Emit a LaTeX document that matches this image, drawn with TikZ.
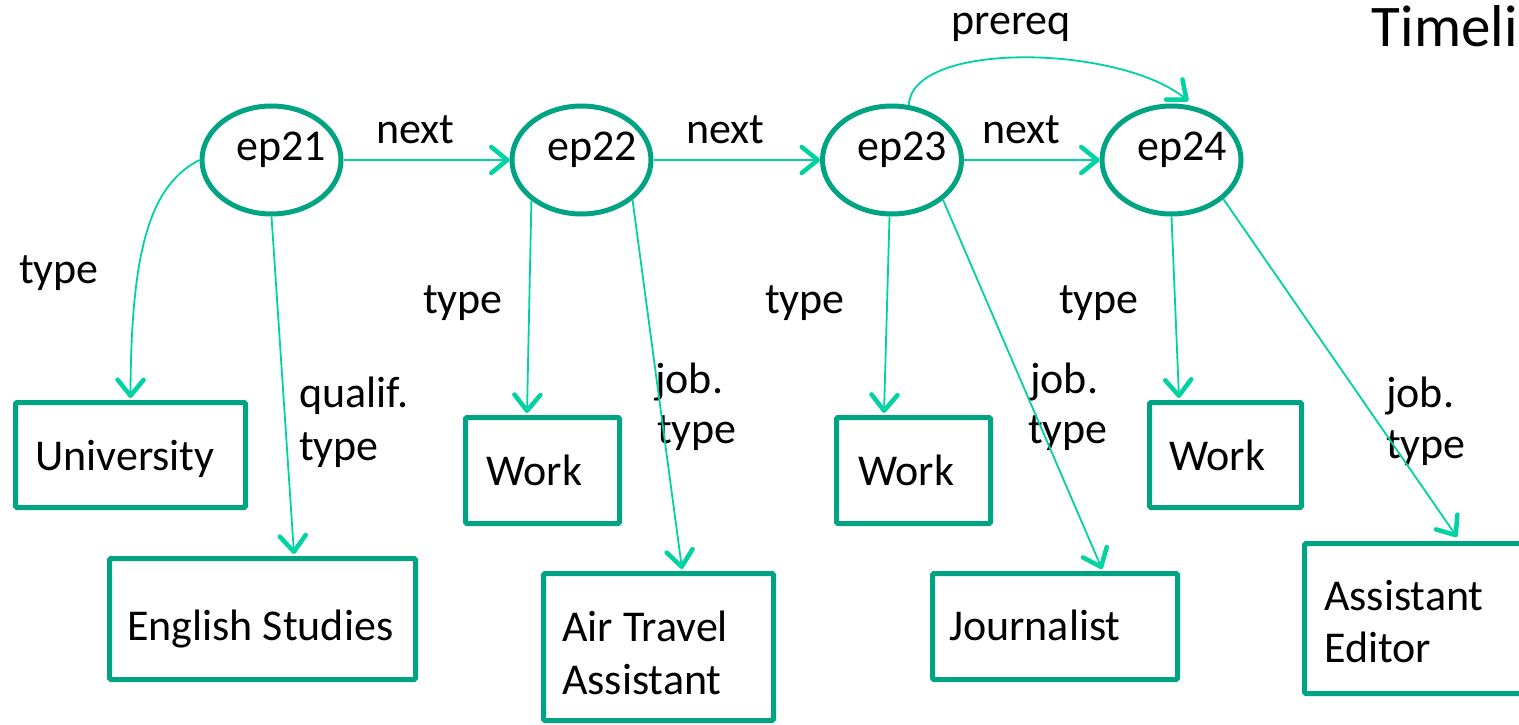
\documentclass[tikz,border=0pt]{standalone}
\usepackage{fontspec}
\setmainfont{Carlito}
\usetikzlibrary{arrows.meta,shapes.geometric}
\definecolor{edgeteal}{RGB}{0,163,130}
\definecolor{linkteal}{RGB}{0,210,162}

\begin{document}
\begin{tikzpicture}[x=1pt,y=-1pt,
  epnode/.style={draw=edgeteal,line width=5pt,ellipse,minimum width=139pt,minimum height=108pt,inner sep=0pt},
  box/.style={draw=edgeteal,line width=5pt,rectangle,rounded corners=1.5pt,inner sep=0pt},
  txt/.style={anchor=base west,inner sep=0pt,font=\fontsize{44}{52}\selectfont},
  link/.style={draw=linkteal,line width=1.8pt,-{Straight Barb[length=16pt,width=26pt,line width=4.5pt,round]}}
]
\useasboundingbox (0,0) rectangle (1519,725);

% title at the top right corner
\node[anchor=base east,inner sep=0pt,font=\fontsize{59}{70}\selectfont] (title) at (1518,47) {Timeli};

% episodes
\node[epnode] (ep21) at (271.5,160) {};
\node[epnode] (ep22) at (581.5,160) {};
\node[epnode] (ep23) at (892,160) {};
\node[epnode] (ep24) at (1171.5,160) {};
\node[txt] (t21) at (236,160) {ep21};
\node[txt] (t22) at (547,160) {ep22};
\node[txt] (t23) at (857,160) {ep23};
\node[txt] (t24) at (1137,160) {ep24};

% classes
\node[box,minimum width=230pt,minimum height=105pt] (univ) at (130.5,455) {};
\node[box,minimum width=306pt,minimum height=121pt] (engl) at (262.5,619) {};
\node[box,minimum width=154pt,minimum height=106pt] (work22) at (542.5,470.5) {};
\node[box,minimum width=230pt,minimum height=147pt] (air) at (658.5,647) {};
\node[box,minimum width=154pt,minimum height=106pt] (work23) at (913.5,470.5) {};
\node[box,minimum width=245pt,minimum height=106pt] (journ) at (1055,626.5) {};
\node[box,minimum width=152pt,minimum height=105pt] (work24) at (1225.5,455) {};
\node[box,minimum width=233pt,minimum height=150pt] (asst) at (1421,618.5) {};

\node[txt] (univt) at (35,470) {University};
\node[txt] (englt) at (127,640) {English Studies};
\node[txt] (work22t) at (486,485) {Work};
\node[txt] (airta) at (562,641) {Air Travel};
\node[txt] (airtb) at (562,694) {Assistant};
\node[txt] (work23t) at (858,485) {Work};
\node[txt] (journt) at (949,640) {Journalist};
\node[txt] (work24t) at (1169,470) {Work};
\node[txt] (assta) at (1324,610) {Assistant};
\node[txt] (asstb) at (1324,662) {Editor};

% edge labels
\node[txt] (nx1) at (376,143) {next};
\node[txt] (nx2) at (686,143) {next};
\node[txt] (nx3) at (982,143) {next};
\node[txt] (pre) at (951,35) {prereq};
\node[txt] (ty1) at (19,283) {type};
\node[txt] (ty2) at (423,313) {type};
\node[txt] (ty3) at (765,313) {type};
\node[txt] (ty4) at (1059,313) {type};
\node[txt] (qa) at (299,407) {qualif.};
\node[txt] (qb) at (299,460) {type};
\node[txt] (ja2) at (655,393) {job.};
\node[txt] (jb2) at (657,443) {type};
\node[txt] (ja3) at (1030,393) {job.};
\node[txt] (jb3) at (1028,443) {type};
\node[txt] (ja4) at (1386,407) {job.};
\node[txt] (jb4) at (1386,458) {type};

% connectors
\draw[link] (ep21.west) .. controls (150,185) and (131,250) .. ([yshift=2pt]univ.north);
\draw[link] (ep21.south) -- ([xshift=31.5pt,yshift=2pt]engl.north);
\draw[link] (ep21.east) -- (ep22.west);

\draw[link] (ep22.-141) -- ([xshift=-15.5pt,yshift=2pt]work22.north);
\draw[link] (ep22.-38) -- ([xshift=23.5pt,yshift=2pt]air.north);
\draw[link] (ep22.east) -- (ep23.west);

\draw[link] ([xshift=-2.5pt]ep23.south) -- ([xshift=-29.5pt,yshift=2pt]work23.north);
\draw[link] (ep23.-38) -- ([xshift=47pt,yshift=2pt]journ.north);
\draw[link] (ep23.east) -- (ep24.west);
\draw[link] (ep23.73) .. controls (912,40) and (1120,45) .. ([yshift=4pt]ep24.73);

\draw[link] (ep24.south) -- ([xshift=-46.5pt,yshift=2pt]work24.north);
\draw[link] (ep24.-37) -- ([xshift=36pt,yshift=4pt]asst.north);
\end{tikzpicture}
\end{document}
